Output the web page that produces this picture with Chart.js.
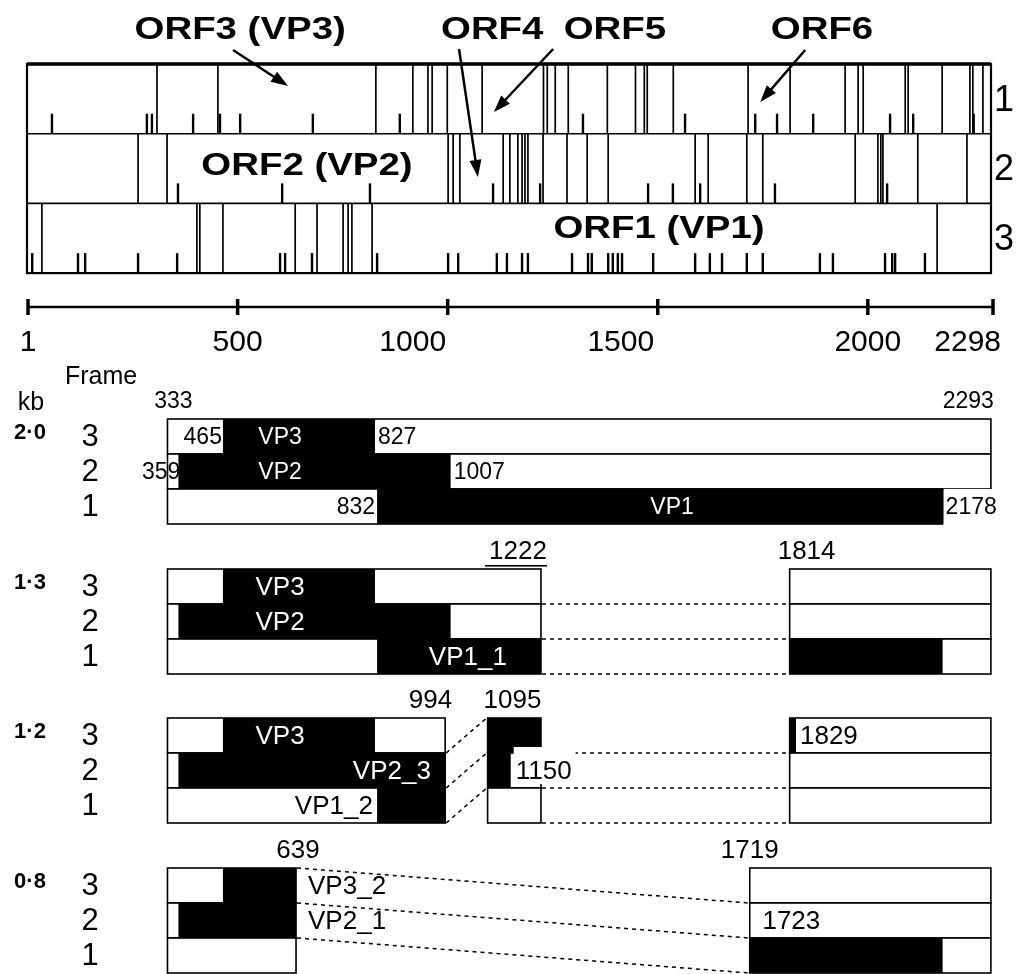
<!DOCTYPE html>
<html>
<head>
<meta charset="utf-8">
<title>ORF map and transcripts</title>
<script src="https://cdn.jsdelivr.net/npm/chart.js@4.4.0/dist/chart.umd.min.js"></script>
<style>
  html, body { margin: 0; padding: 0; background: #fff; }
  canvas { display: block; }
</style>
</head>
<body>
<canvas id="map" width="1030" height="974"></canvas>
<script>
// genome length and the scale bar under the ORF map
const genomeLength = 2298;
const scaleTicks = [1, 500, 1000, 1500, 2000, 2298];

// ORF map rows (top to bottom) with stop codons (full lines) and ATG (short ticks), nt
const mapRows = [1, 2, 3];
const stopCodons = [
  [308, 453, 829, 917, 953, 963, 999, 1082, 1228, 1237, 1256, 1287, 1380, 1447, 1468, 1475,
   1537, 1715, 1815, 1946, 1977, 1989, 2089, 2096, 2177, 2243, 2250, 2274],
  [263, 332, 1001, 1013, 1029, 1132, 1148, 1167, 1177, 1184, 1191, 1227, 1284, 1332, 1382,
   1589, 1620, 1712, 1750, 1970, 2024, 2031, 2036, 2119, 2236],
  [34, 403, 410, 465, 637, 689, 751, 763, 772, 820, 2165],
];
const startCodons = [
  [58, 284, 296, 394, 458, 506, 679, 886, 1322, 1565, 1732, 1784, 1870, 2053, 2108, 2252],
  [358, 606, 815, 1108, 1220, 1477, 1536, 1601, 1779, 2046],
  [11, 120, 137, 263, 356, 601, 613, 677, 832, 1001, 1025, 1117, 1141, 1177, 1191, 1296,
   1334, 1343, 1382, 1393, 1405, 1415, 1489, 1589, 1624, 1653, 1712, 1750, 1886, 1917,
   2041, 2058, 2065, 2136],
];

// transcripts (kb) and their exons, nt
const transcripts = ["2·0", "1·3", "1·2", "0·8"];
const exons = [
  [[333, 2293]],
  [[333, 1222], [1814, 2293]],
  [[333, 994], [1095, 1222], [1814, 2293]],
  [[333, 639], [1719, 2293]],
];
// translated stretches: [frame, start, end]
const orfBlocks = [
  [[3, 465, 827], [2, 359, 1007], [1, 832, 2178]],
  [[3, 465, 827], [2, 359, 1007], [1, 832, 1222], [1, 1814, 2178]],
  [[3, 465, 827], [2, 359, 994], [1, 832, 994], [3, 1095, 1222], [2, 1095, 1150], [3, 1814, 1829]],
  [[3, 465, 639], [2, 359, 639], [1, 1719, 2178]],
];
// frame 1 of the 2.0 kb transcript ends at 2178: [transcript, frame, end]
const rowEnds = [[0, 1, 2178]];
// splice connectors: [transcript, from nt, to nt, frame shift]
const junctions = [[1, 1222, 1814, 0], [2, 994, 1095, -1], [2, 1222, 1814, 0], [3, 639, 1719, 1]];

// layout
const W = 1030, H = 974;
const X_FIRST = 28, X_LAST = 993;
const k = (X_LAST - X_FIRST) / (genomeLength - 1);
const xMin = 1 - X_FIRST / k;
const xMax = xMin + W / k;
const MAP_TOP = 64, MAP_ROW = 69.7, TICK_H = 20;
const PANEL_TOPS = [419, 569, 718, 868], TR_ROW = 35;
const frameOrder = [3, 2, 1];
const FONT = '"Liberation Sans", Arial, sans-serif';

const mapRowTop = r => MAP_TOP + (r - 1) * MAP_ROW;
const trRowTop = (t, f) => PANEL_TOPS[t] + (3 - f) * TR_ROW;

const datasets = [];
mapRows.forEach((r, i) => {
  datasets.push({
    data: stopCodons[i].map(v => ({ x: v, y: mapRowTop(r) + MAP_ROW / 2 })),
    pointStyle: "line", pointRotation: 90, pointRadius: MAP_ROW / 2,
    pointBorderWidth: 1.7, pointBorderColor: "#000",
  });
  datasets.push({
    data: startCodons[i].map(v => ({ x: v, y: mapRowTop(r) + MAP_ROW - TICK_H / 2 })),
    pointStyle: "line", pointRotation: 90, pointRadius: TICK_H / 2,
    pointBorderWidth: 2.4, pointBorderColor: "#000",
  });
});

function text(ctx, str, x, y, size, align, opts = {}) {
  ctx.save();
  ctx.font = (opts.bold ? "bold " : "") + size + "px " + FONT;
  ctx.fillStyle = opts.color || "#000";
  ctx.textAlign = align;
  ctx.textBaseline = "middle";
  ctx.translate(x, y);
  ctx.scale(opts.stretch || 1, 1);
  ctx.fillText(str, 0, 0);
  ctx.restore();
}

function arrow(ctx, x1, y1, x2, y2) {
  const a = Math.atan2(y2 - y1, x2 - x1);
  ctx.save();
  ctx.lineWidth = 2.5;
  ctx.strokeStyle = "#000";
  ctx.beginPath();
  ctx.moveTo(x1, y1);
  ctx.lineTo(x2 - 12 * Math.cos(a), y2 - 12 * Math.sin(a));
  ctx.stroke();
  ctx.beginPath();
  ctx.moveTo(x2, y2);
  ctx.lineTo(x2 - 17 * Math.cos(a) + 6 * Math.sin(a), y2 - 17 * Math.sin(a) - 6 * Math.cos(a));
  ctx.lineTo(x2 - 17 * Math.cos(a) - 6 * Math.sin(a), y2 - 17 * Math.sin(a) + 6 * Math.cos(a));
  ctx.closePath();
  ctx.fillStyle = "#000";
  ctx.fill();
  ctx.restore();
}

const drawing = {
  id: "drawing",
  afterDatasetsDraw(chart) {
    const ctx = chart.ctx;
    const xs = chart.scales.x, ys = chart.scales.y;
    const px = v => xs.getPixelForValue(v);
    const py = v => ys.getPixelForValue(v);

    // ORF map frame
    const left = px(1) - 1, right = px(genomeLength) - 2;
    ctx.save();
    ctx.strokeStyle = "#000";
    ctx.lineWidth = 1.6;
    mapRows.forEach(r => {
      ctx.beginPath();
      ctx.moveTo(left, py(mapRowTop(r) + MAP_ROW));
      ctx.lineTo(right, py(mapRowTop(r) + MAP_ROW));
      ctx.stroke();
    });
    ctx.lineWidth = 2.2;
    ctx.strokeRect(left, py(MAP_TOP), right - left, MAP_ROW * 3);
    ctx.lineWidth = 3.5;
    ctx.beginPath();
    ctx.moveTo(left, py(MAP_TOP));
    ctx.lineTo(right, py(MAP_TOP));
    ctx.stroke();
    ctx.restore();

    // ORF titles and arrows
    text(ctx, "ORF3 (VP3)", px(506), 30, 32, "center", { bold: true, stretch: 1.2 });
    text(ctx, "ORF4", px(1106), 30, 32, "center", { bold: true, stretch: 1.2 });
    text(ctx, "ORF5", px(1398), 30, 32, "center", { bold: true, stretch: 1.2 });
    text(ctx, "ORF6", px(1891), 30, 32, "center", { bold: true, stretch: 1.2 });
    text(ctx, "ORF2 (VP2)", px(665), 166, 32, "center", { bold: true, stretch: 1.2 });
    text(ctx, "ORF1 (VP1)", px(1503), 229, 32, "center", { bold: true, stretch: 1.2 });
    arrow(ctx, px(489), 50, px(620), 86);
    arrow(ctx, px(1027), 49, px(1072), 177);
    arrow(ctx, px(1251), 49, px(1110), 112);
    arrow(ctx, px(1851), 50, px(1744), 102);
    mapRows.forEach(r => text(ctx, String(r), 1004, mapRowTop(r) + MAP_ROW / 2 + 2, 36, "center"));

    // scale bar
    ctx.save();
    ctx.strokeStyle = "#000";
    ctx.lineWidth = 2.5;
    ctx.beginPath();
    ctx.moveTo(px(1), 307);
    ctx.lineTo(px(genomeLength), 307);
    ctx.stroke();
    ctx.lineWidth = 3.5;
    scaleTicks.forEach(v => {
      ctx.beginPath();
      ctx.moveTo(px(v), 299);
      ctx.lineTo(px(v), 315);
      ctx.stroke();
    });
    ctx.restore();
    const tickShift = [0, 0, -35, -37, 0, 0];
    scaleTicks.forEach((v, i) => {
      if (i === scaleTicks.length - 1) text(ctx, String(v), px(v) + 8, 343, 30, "right");
      else text(ctx, String(v), px(v) + tickShift[i], 343, 30, "center");
    });

    // transcript panels
    text(ctx, "Frame", 101, 377, 25, "center");
    text(ctx, "kb", 31, 403, 25, "center");
    transcripts.forEach((kb, t) => {
      text(ctx, kb, 30, trRowTop(t, 3) + TR_ROW / 2 - 4, 22, "center", { bold: true });
      frameOrder.forEach(f => text(ctx, String(f), 90, trRowTop(t, f) + TR_ROW / 2 + 1, 31, "center"));

      exons[t].forEach(([a, b]) => {
        frameOrder.forEach(f => {
          let end = b;
          rowEnds.forEach(e => { if (e[0] === t && e[1] === f && e[2] > a && e[2] < end) end = e[2]; });
          const y = py(trRowTop(t, f));
          const x1 = px(a), x2 = px(end);
          ctx.fillStyle = "#fff";
          ctx.fillRect(x1, y, x2 - x1, TR_ROW);
          orfBlocks[t].filter(o => o[0] === f).forEach(o => {
            const s = Math.max(o[1], a), e = Math.min(o[2], end);
            if (e > s) {
              ctx.fillStyle = "#000";
              ctx.fillRect(px(s), y, px(e) - px(s), TR_ROW);
            }
          });
          ctx.strokeStyle = "#000";
          ctx.lineWidth = 1.6;
          ctx.strokeRect(x1, y, x2 - x1, TR_ROW);
        });
      });
    });

    // dashed splice connectors
    ctx.save();
    ctx.strokeStyle = "#000";
    ctx.lineWidth = 1.5;
    ctx.setLineDash([4, 4]);
    junctions.forEach(([t, from, to, shift]) => {
      for (let b = 0; b <= 3; b++) {
        const b2 = b + shift;
        if (b2 < 0 || b2 > 3 || (shift === 0 && b === 0)) continue;
        ctx.beginPath();
        ctx.moveTo(px(from) + 1, py(PANEL_TOPS[t] + b * TR_ROW));
        ctx.lineTo(px(to) - 1, py(PANEL_TOPS[t] + b2 * TR_ROW));
        ctx.stroke();
      }
    });
    ctx.restore();

    // site labels: [transcript, frame (0 = above), nt, text, align, colour, dx]
    const labels = [
      [0, 0, 333, "333", "center", "#000", 6],
      [0, 0, 2293, "2293", "right", "#000", 3],
      [0, 3, 465, "465", "right", "#000", -1],
      [0, 3, 601, "VP3", "center", "#fff", 0],
      [0, 3, 827, "827", "left", "#000", 3],
      [0, 2, 359, "359", "right", "#000", 2],
      [0, 2, 601, "VP2", "center", "#fff", 0],
      [0, 2, 1007, "1007", "left", "#000", 3],
      [0, 1, 832, "832", "right", "#000", -2],
      [0, 1, 1534, "VP1", "center", "#fff", 0],
      [0, 1, 2178, "2178", "left", "#000", 3],
      [1, 0, 1222, "1222", "right", "#000", 6],
      [1, 0, 1814, "1814", "left", "#000", -12],
      [1, 3, 601, "VP3", "center", "#fff", 0],
      [1, 2, 601, "VP2", "center", "#fff", 0],
      [1, 1, 1048, "VP1_1", "center", "#fff", 0],
      [2, 0, 994, "994", "right", "#000", 7],
      [2, 0, 1095, "1095", "left", "#000", -4],
      [2, 3, 601, "VP3", "center", "#fff", 0],
      [2, 2, 867, "VP2_3", "center", "#fff", 0],
      [2, 1, 822, "VP1_2", "right", "#000", 0],
      [2, 2, 1150, "1150", "left", "#000", 5],
      [2, 3, 1829, "1829", "left", "#000", 4],
      [3, 0, 639, "639", "center", "#000", 2],
      [3, 0, 1719, "1719", "center", "#000", 0],
      [3, 3, 639, "VP3_2", "left", "#000", 12],
      [3, 2, 639, "VP2_1", "left", "#000", 12],
      [3, 2, 1723, "1723", "left", "#000", 11],
    ];
    labels.forEach(([t, f, nt, str, align, color, dx]) => {
      const x = px(nt) + dx;
      const y = f === 0 ? PANEL_TOPS[t] - 17 : trRowTop(t, f) + TR_ROW / 2 + 1;
      const size = t === 0 ? 23 : 26;
      if (str === "1150" || str === "2178") {
        ctx.font = size + "px " + FONT;
        const w = ctx.measureText(str).width;
        ctx.fillStyle = "#fff";
        ctx.fillRect(x - 2, trRowTop(t, f) - 6 * (str === "1150"), w + 6, TR_ROW + 2);
        if (str === "2178") {
          ctx.strokeStyle = "#000";
          ctx.lineWidth = 1.6;
          ctx.beginPath();
          ctx.moveTo(px(nt), trRowTop(t, f));
          ctx.lineTo(px(nt), trRowTop(t, f) + TR_ROW);
          ctx.stroke();
        }
      }
      text(ctx, str, x, y, size, align, { color: color });
      if (str === "1222") {
        ctx.fillStyle = "#000";
        ctx.fillRect(x - 62, y + 13, 62, 1.6);
      }
    });
  },
};

new Chart(document.getElementById("map"), {
  type: "scatter",
  data: { datasets: datasets },
  options: {
    responsive: false,
    animation: false,
    events: [],
    layout: { padding: 0, autoPadding: false },
    scales: {
      x: { type: "linear", min: xMin, max: xMax, display: false },
      y: { type: "linear", min: 0, max: H, reverse: true, display: false },
    },
    plugins: { legend: { display: false }, tooltip: { enabled: false } },
  },
  plugins: [drawing],
});
</script>
</body>
</html>
